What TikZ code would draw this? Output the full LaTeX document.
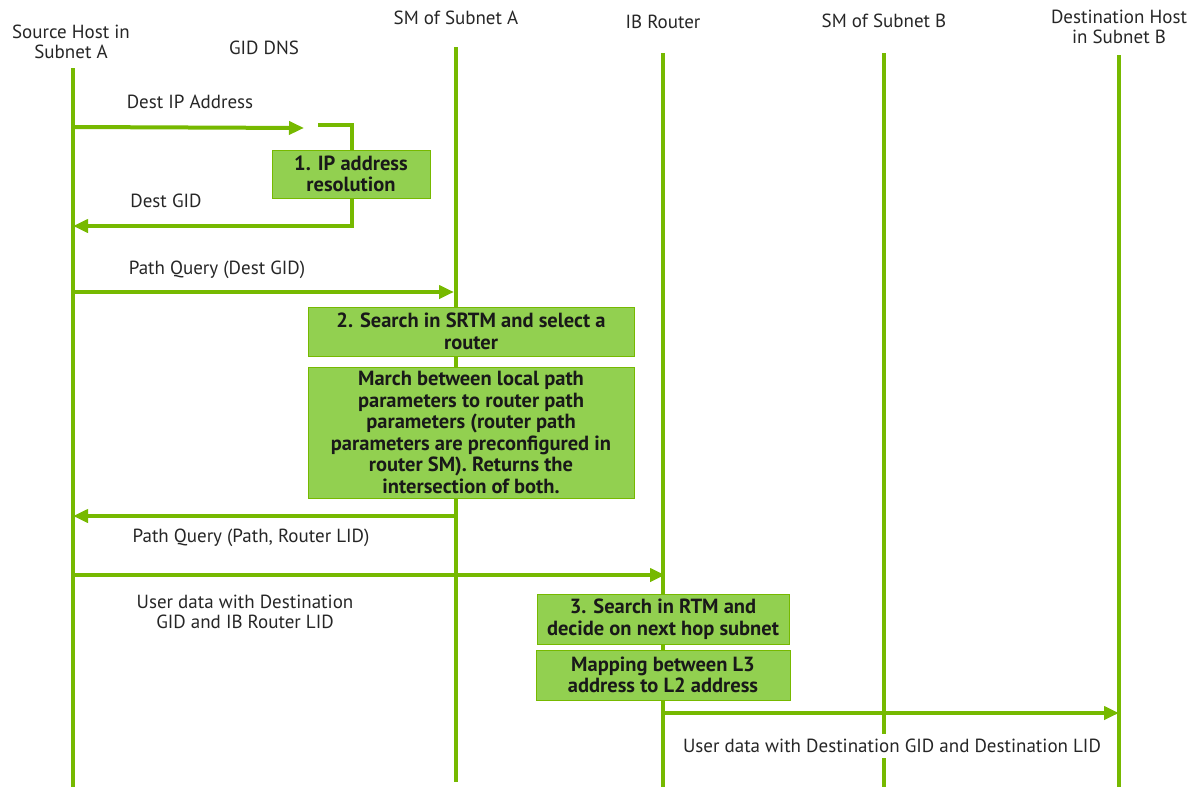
\documentclass[tikz,border=0pt]{standalone}
\usepackage{fontspec}
\setmainfont{PT Sans}
\usetikzlibrary{arrows.meta}
\definecolor{nvgreen}{RGB}{118,185,0}
\definecolor{boxgreen}{RGB}{146,208,80}
\begin{document}
\begin{tikzpicture}[x=1pt,y=-1pt,
 life/.style={draw=nvgreen,line width=3.5pt},
 msg/.style={draw=nvgreen,line width=4pt,-{Triangle[length=15pt,width=13pt]}},
 lbl/.style={font=\fontsize{19}{20.5}\selectfont,align=center,inner sep=1pt,text=black!85},
 actbox/.style={draw=nvgreen,line width=1pt,fill=boxgreen,font=\bfseries\fontsize{20.5}{21.5}\selectfont,align=center,inner sep=1pt,text=black!90},
]
\useasboundingbox (0,0) rectangle (1197,787);

% participant labels
\node[lbl] (hA) at (71,42) {Source Host in\\Subnet A};
\node[lbl] (dns) at (264,48) {GID DNS};
\node[lbl] (smA) at (456,18) {SM of Subnet A};
\node[lbl] (ibr) at (663,22) {IB Router};
\node[lbl] (smB) at (884,21) {SM of Subnet B};
\node[lbl] (hB) at (1119,27) {Destination Host\\in Subnet B};

% lifeline ends
\coordinate (hAt) at (73,68);   \coordinate (hAb) at (73,787);
\coordinate (smAt) at (456,47); \coordinate (smAb) at (456,782);
\coordinate (ibrt) at (663,53); \coordinate (ibrb) at (663,787);
\coordinate (smBt) at (884,53); \coordinate (smBb) at (884,787);
\coordinate (hBt) at (1119,55); \coordinate (hBb) at (1119,787);

\draw[life] (hAt) -- (hAb);
\draw[life] (smAt) -- (smAb);
\draw[life] (ibrt) -- (ibrb);
\draw[life] (smBt) -- (smBb);
\draw[life] (hBt) -- (hBb);

% message anchor points
\coordinate (m1s) at (73,127);  \coordinate (m1e) at (304,128);
\coordinate (d1) at (318,125);  \coordinate (d2) at (352,226); \coordinate (m2e) at (73,226);
\coordinate (m3s) at (73,292);  \coordinate (m3e) at (454,292);
\coordinate (m4s) at (456,516); \coordinate (m4e) at (73,516);
\coordinate (m5s) at (73,575);  \coordinate (m5e) at (665,575);
\coordinate (m6s) at (663,713); \coordinate (m6e) at (1119,713);

\draw[msg] (m1s) -- (m1e);
\draw[msg] (d1) -| (d2) -- (m2e);
\draw[msg] (m3s) -- (m3e);
\draw[msg] (m4s) -- (m4e);
\draw[msg] (m5s) -- (m5e);
\draw[msg] (m6s) -- (m6e);

% message labels
\node[lbl] (l1) at (190,102) {Dest IP Address};
\node[lbl] (l2) at (166,201) {Dest GID};
\node[lbl] (l3) at (217,270) {Path Query (Dest GID)};
\node[lbl] (l4) at (251,538) {Path Query (Path, Router LID)};
\node[lbl] (l5) at (245,612) {User data with Destination\\GID and IB Router LID};
\node[lbl,fill=white,inner ysep=5pt] (l6) at (892,746) {User data with Destination GID and Destination LID};

% activity boxes
\node[actbox,minimum width=158pt,minimum height=48pt] (b1) at (351,174) {1. IP address\\resolution};
\node[actbox,minimum width=326pt,minimum height=49pt] (b2) at (471,331.5) {2. Search in SRTM and select a\\router};
\node[actbox,minimum width=326pt,minimum height=131pt] (b3) at (471,432.5) {March between local path\\parameters to router path\\parameters (router path\\parameters are preconfigured in\\router SM). Returns the\\intersection of both.};
\node[actbox,minimum width=252pt,minimum height=50pt] (b4) at (663,619) {3. Search in RTM and\\decide on next hop subnet};
\node[actbox,minimum width=254pt,minimum height=50pt] (b5) at (663,675) {Mapping between L3\\address to L2 address};
\end{tikzpicture}
\end{document}
